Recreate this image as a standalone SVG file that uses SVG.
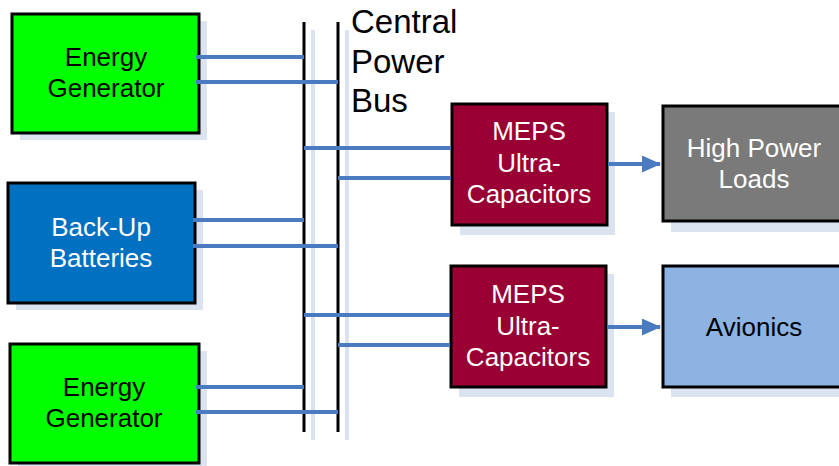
<svg xmlns="http://www.w3.org/2000/svg" width="839" height="466" viewBox="0 0 839 466">
<style>
.box{stroke:#000;stroke-width:3}
.sh{fill:#dbe3f0}
.t{font-family:"Liberation Sans",Arial,sans-serif;font-size:26px;text-anchor:middle}
.w{fill:#fff}
.k{fill:#000}
.c{stroke:#4a7bc0;stroke-width:4;fill:none}
.bus{stroke:#000;stroke-width:3}
.bsh{stroke:#dbe3f0;stroke-width:4}
.bt{font-family:"Liberation Sans",Arial,sans-serif;font-size:33px;fill:#000}
</style>
<defs>
<marker id="ah" markerWidth="19" markerHeight="17" refX="18" refY="8.5" orient="auto" markerUnits="userSpaceOnUse">
<path d="M0,0 L19,8.5 L0,17 z" fill="#4a7bc0"/>
</marker>
</defs>
<g id="bus">
<line class="bsh" x1="313" y1="30" x2="313" y2="440"/>
<line class="bsh" x1="347" y1="30" x2="347" y2="440"/>
<line class="bus" x1="304" y1="22" x2="304" y2="432"/>
<line class="bus" x1="338" y1="22" x2="338" y2="432"/>
<text class="bt" x="351" y="33">Central</text>
<text class="bt" x="351" y="73">Power</text>
<text class="bt" x="351" y="112">Bus</text>
</g>
<g id="gen1">
<rect class="sh" x="20" y="21" width="187" height="119"/>
<rect class="box" x="12" y="14" width="187" height="119" fill="#00ff00"/>
<text class="t k" x="106" y="66">Energy</text>
<text class="t k" x="106" y="97">Generator</text>
</g>
<g id="batteries">
<rect class="sh" x="16" y="190" width="187" height="120"/>
<rect class="box" x="8" y="183" width="187" height="120" fill="#0070c0"/>
<text class="t w" x="101" y="236">Back-Up</text>
<text class="t w" x="101" y="267">Batteries</text>
</g>
<g id="gen2">
<rect class="sh" x="18" y="351" width="189" height="119"/>
<rect class="box" x="10" y="344" width="189" height="119" fill="#00ff00"/>
<text class="t k" x="104" y="396">Energy</text>
<text class="t k" x="104" y="427">Generator</text>
</g>
<g id="meps1">
<rect class="sh" x="460" y="112" width="155" height="123"/>
<rect class="box" x="452" y="104" width="155" height="121" fill="#990033"/>
<text class="t w" x="529" y="140">MEPS</text>
<text class="t w" x="529" y="172">Ultra-</text>
<text class="t w" x="529" y="203">Capacitors</text>
</g>
<g id="meps2">
<rect class="sh" x="459" y="274" width="155" height="123"/>
<rect class="box" x="451" y="266" width="155" height="121" fill="#990033"/>
<text class="t w" x="528" y="303">MEPS</text>
<text class="t w" x="528" y="335">Ultra-</text>
<text class="t w" x="528" y="366">Capacitors</text>
</g>
<g id="highpower">
<rect class="sh" x="671" y="114" width="190" height="118"/>
<rect class="box" x="663" y="106" width="190" height="115" fill="#7a7a7a"/>
<text class="t w" x="754" y="157">High Power</text>
<text class="t w" x="754" y="188">Loads</text>
</g>
<g id="avionics">
<rect class="sh" x="671" y="274" width="190" height="123"/>
<rect class="box" x="663" y="266" width="190" height="121" fill="#8db3e2"/>
<text class="t k" x="754" y="336">Avionics</text>
</g>
<g id="connectors">
<line class="c" x1="196" y1="57" x2="304" y2="57"/>
<line class="c" x1="196" y1="82" x2="338" y2="82"/>
<line class="c" x1="193" y1="220" x2="304" y2="220"/>
<line class="c" x1="193" y1="246" x2="338" y2="246"/>
<line class="c" x1="196" y1="387" x2="304" y2="387"/>
<line class="c" x1="196" y1="412" x2="338" y2="412"/>
<line class="c" x1="304" y1="148" x2="451" y2="148"/>
<line class="c" x1="338" y1="178" x2="451" y2="178"/>
<line class="c" x1="304" y1="315" x2="450" y2="315"/>
<line class="c" x1="338" y1="345" x2="450" y2="345"/>
<line class="c" x1="608" y1="164" x2="660" y2="164" marker-end="url(#ah)"/>
<line class="c" x1="607" y1="327" x2="660" y2="327" marker-end="url(#ah)"/>
</g>
</svg>
